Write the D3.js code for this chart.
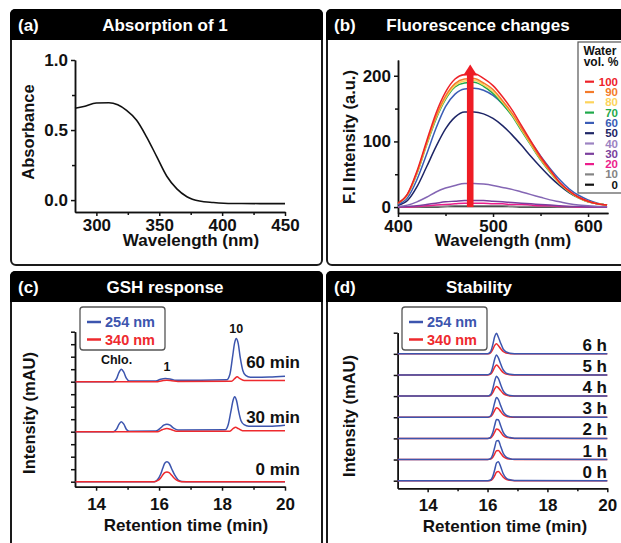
<!DOCTYPE html>
<html><head><meta charset="utf-8">
<script src="https://d3js.org/d3.v7.min.js"></script>
<style>
body{margin:0;background:#fff;}
svg text{font-family:"Liberation Sans",Arial,sans-serif;font-weight:bold;}
</style></head><body>
<svg id="fig" width="621" height="543"></svg>
<script>
// (a) absorption
const absWl  = [283,290,300,310,317,324,332,340,348,356,364,372,382,393,408,430,450];
const absVal = [0.655,0.668,0.693,0.695,0.68,0.64,0.57,0.45,0.31,0.17,0.08,0.024,-0.007,-0.017,-0.024,-0.025,-0.025];

// (b) fluorescence, water vol. %
const flWl = [400,410,420,430,440,450,460,470,480,490,500,510,520,530,540,550,560,570,580,590,600,610,620];
const water = ["100","90","80","70","60","50","40","30","20","10","0"];
const waterColors = ["#ee2229","#f47b2a","#fdd45c","#1fa94b","#3a5cb6","#1d2566","#9c83c2","#7b3f9d","#ec1d8c","#848484","#111111"];
const fl100 = [6,20,55,100,143,175,195,202,203,196,185,168,148,124,100,77,57,38,25,15,9,5,3];
const fl90  = [6,19,53,97,138,169,188,195,196,189,179,162,143,120,97,74,55,37,24,15,9,5,3];
const fl80  = [6,19,52,95,136,166,185,192,193,186,176,160,141,118,95,73,54,36,24,14,8,5,3];
const fl70  = [6,19,51,94,134,164,183,189,190,184,173,157,139,116,94,72,53,36,23,14,8,5,3];
const fl60  = [4,14,42,80,120,153,172,180,181,178,170,157,140,120,99,78,59,42,28,18,11,6,3];
const fl50  = [3,10,31,61,92,119,137,145,145,142,135,124,110,94,77,61,46,33,22,14,8,5,3];
const fl40  = [1,3,8,15,23,29,33,36,36,35,33,30,27,23,19,15,11,8,5,3,2,1,1];
const fl30  = [0,1,2,4,6,8,9,10,10,10,9,8,7,6,5,4,3,2,1,1,0,0,0];
const fl20  = [0,0,1,2,3,4,5,6,6,6,5,5,4,4,3,2,2,1,1,0,0,0,0];
const fl10  = [0,0,0,1,1,1,2,2,2,2,2,2,1,1,1,1,1,0,0,0,0,0,0];
const fl0   = [0,0,0,0,0,1,1,1,1,1,1,1,1,0,0,0,0,0,0,0,0,0,0];
const flSeries = [fl100,fl90,fl80,fl70,fl60,fl50,fl40,fl30,fl20,fl10,fl0];
const arrowWl = 476, arrowTop = 217;

// (c) GSH response: [time, intensity above baseline]
const gshLabels = ["0 min","30 min","60 min"];
const gshLabelLift = [0.25, 0.35, 0.55];
const gsh254 = [
  [[13.35,0],[15.85,0],[15.95,0.08],[16.05,0.3],[16.12,0.55],[16.18,0.74],[16.25,0.8],[16.32,0.74],[16.4,0.52],[16.5,0.26],[16.6,0.08],[16.72,0.01],[17,0],[20,0]],
  [[13.35,0],[14.55,0],[14.65,0.1],[14.72,0.28],[14.8,0.4],[14.88,0.3],[14.96,0.1],[15.05,0.02],[15.9,0.03],[16.05,0.15],[16.15,0.26],[16.25,0.3],[16.35,0.26],[16.45,0.15],[16.6,0.07],[18.1,0.08],[18.2,0.3],[18.28,0.8],[18.35,1.25],[18.4,1.4],[18.46,1.25],[18.53,0.8],[18.6,0.45],[18.7,0.28],[18.85,0.22],[19.5,0.22],[20,0.26]],
  [[13.35,0],[14.55,0],[14.65,0.12],[14.72,0.35],[14.8,0.5],[14.88,0.38],[14.96,0.14],[15.05,0.03],[15.9,0.03],[16.05,0.1],[16.2,0.13],[16.35,0.11],[16.5,0.06],[18.15,0.08],[18.25,0.3],[18.33,0.95],[18.4,1.55],[18.45,1.73],[18.51,1.55],[18.58,0.95],[18.66,0.45],[18.75,0.25],[18.9,0.18],[19.5,0.19],[20,0.22]]
];
const gsh340 = [
  [[13.35,0],[15.85,0],[15.95,0.04],[16.05,0.15],[16.12,0.28],[16.18,0.36],[16.25,0.39],[16.32,0.36],[16.4,0.26],[16.5,0.12],[16.6,0.04],[16.72,0],[20,0]],
  [[13.35,0],[15.95,0],[16.1,0.08],[16.25,0.13],[16.4,0.08],[16.55,0.02],[18.25,0.02],[18.35,0.12],[18.43,0.18],[18.52,0.12],[18.65,0.04],[20,0.04]],
  [[13.35,0],[15.9,0],[16.1,0.04],[16.25,0.06],[16.4,0.04],[16.6,0.01],[18.3,0.02],[18.4,0.12],[18.48,0.2],[18.56,0.13],[18.7,0.05],[20,0.05]]
];

// (d) stability
const stabLabels = ["0 h","1 h","2 h","3 h","4 h","5 h","6 h"];
const stabTime = [13,16.0,16.1,16.17,16.24,16.3,16.36,16.44,16.52,16.62,16.75,16.9,20];
const stab254 = [
  [0,0,0.03,0.18,0.52,0.84,0.9,0.66,0.34,0.13,0.04,0.01,0],
  [0,0,0.04,0.22,0.58,0.88,0.9,0.62,0.31,0.12,0.04,0.01,0],
  [0,0,0.05,0.25,0.62,0.9,0.88,0.6,0.3,0.11,0.04,0.01,0],
  [0,0,0.06,0.3,0.7,0.93,0.85,0.55,0.27,0.1,0.03,0.01,0],
  [0,0,0.07,0.32,0.72,0.94,0.84,0.54,0.26,0.1,0.03,0.01,0],
  [0,0.01,0.08,0.35,0.76,0.95,0.82,0.52,0.25,0.09,0.03,0.01,0],
  [0,0.01,0.1,0.4,0.82,0.97,0.8,0.5,0.24,0.09,0.03,0.01,0]
];
const stab340 = [
  [0,0,0.01,0.08,0.24,0.4,0.43,0.32,0.17,0.06,0.02,0,0],
  [0,0,0.02,0.1,0.27,0.42,0.43,0.3,0.15,0.06,0.02,0,0],
  [0,0,0.02,0.12,0.3,0.44,0.42,0.29,0.14,0.05,0.02,0,0],
  [0,0,0.03,0.14,0.33,0.45,0.41,0.27,0.13,0.05,0.01,0,0],
  [0,0,0.03,0.15,0.35,0.46,0.4,0.26,0.13,0.05,0.01,0,0],
  [0,0,0.04,0.17,0.37,0.47,0.4,0.25,0.12,0.04,0.01,0,0],
  [0,0,0.05,0.2,0.4,0.48,0.39,0.24,0.11,0.04,0.01,0,0]
];

const blue = "#3c55ae", red = "#ee2a2e";
const svg = d3.select("#fig");

function panel(x, y, w, h, tag, title, titleX) {
  svg.append("rect").attr("x", x).attr("y", y).attr("width", w).attr("height", h)
    .attr("rx", 5).attr("fill", "#fff").attr("stroke", "#1a1a1a").attr("stroke-width", 2);
  svg.append("rect").attr("x", x - 1).attr("y", y - 1).attr("width", w + 2).attr("height", 31)
    .attr("rx", 5).attr("fill", "#000");
  svg.append("rect").attr("x", x - 1).attr("y", y + 15).attr("width", w + 2).attr("height", 15).attr("fill", "#000");
  svg.append("text").attr("x", x + 7).attr("y", y + 21).attr("fill", "#fff").attr("font-size", 17).text(tag);
  svg.append("text").attr("x", titleX).attr("y", y + 21).attr("fill", "#fff").attr("font-size", 17)
    .attr("text-anchor", "middle").text(title);
}

function axes(x, y, o) {
  const xy = y.range()[0], xx = x.range()[0];
  const pad = o.xPad || 3;
  const gx = svg.append("g").attr("transform", `translate(0,${xy})`)
    .call(d3.axisBottom(x).tickValues(o.xMinor).tickSize(3).tickSizeOuter(0).tickFormat(""));
  const gx2 = svg.append("g").attr("transform", `translate(0,${xy})`)
    .call(d3.axisBottom(x).tickValues(o.xMajor).tickSize(4).tickPadding(pad).tickSizeOuter(0).tickFormat(o.xFmt || d3.format("d")));
  const gy = svg.append("g").attr("transform", `translate(${xx},0)`)
    .call(d3.axisLeft(y).tickValues(o.yMinor || []).tickSize(3).tickSizeOuter(0).tickFormat(""));
  const gy2 = svg.append("g").attr("transform", `translate(${xx},0)`)
    .call(d3.axisLeft(y).tickValues(o.yMajor).tickSize(4).tickPadding(3).tickSizeOuter(0).tickFormat(o.yFmt || ""));
  [gx, gx2, gy, gy2].forEach(g => {
    g.selectAll("path,line").attr("stroke", "#111").attr("stroke-width", 1.5);
    g.selectAll("text").attr("fill", "#111").attr("font-size", 17)
      .style("font-family", '"Liberation Sans",Arial,sans-serif').style("font-weight", "bold");
  });
  svg.append("text").attr("x", o.xTitle[0]).attr("y", o.xTitle[1]).attr("text-anchor", "middle")
    .attr("font-size", 17).attr("fill", "#111").text(o.xTitle[2]);
  svg.append("text").attr("transform", `translate(${o.yTitle[0]},${o.yTitle[1]}) rotate(-90)`)
    .attr("text-anchor", "middle").attr("font-size", 16.5).attr("fill", "#111").text(o.yTitle[2]);
}

function hplcLegend(x0, y0) {
  svg.append("rect").attr("x", x0).attr("y", y0).attr("width", 85).attr("height", 43).attr("rx", 3)
    .attr("fill", "#fff").attr("stroke", "#555").attr("stroke-width", 1.3);
  [["254 nm", blue], ["340 nm", red]].forEach((d, i) => {
    const yy = y0 + 15 + i * 17.5;
    svg.append("line").attr("x1", x0 + 7).attr("x2", x0 + 21).attr("y1", yy).attr("y2", yy)
      .attr("stroke", d[1]).attr("stroke-width", 2.5);
    svg.append("text").attr("x", x0 + 25).attr("y", yy + 5).attr("fill", d[1]).attr("font-size", 14.5).text(d[0]);
  });
}

// ---------- panels ----------
panel(11, 10, 311, 255, "(a)", "Absorption of 1", 165);
panel(327, 10, 330, 255, "(b)", "Fluorescence changes", 478);
panel(11, 272, 311, 300, "(c)", "GSH response", 165);
panel(327, 272, 330, 300, "(d)", "Stability", 479);

// (a)
const xa = d3.scaleLinear().domain([283, 450]).range([75, 285]);
const ya = d3.scaleLinear().domain([-0.085, 1.0]).range([212, 60]);
axes(xa, ya, {xMajor: [300,350,400,450], xMinor: [325,375,425], yMajor: [0,0.5,1.0], yMinor: [0.25,0.75],
  yFmt: d3.format(".1f"), xTitle: [191, 246, "Wavelength (nm)"], yTitle: [34, 132, "Absorbance"]});
svg.append("path").datum(absWl.map((w, i) => [w, absVal[i]]))
  .attr("fill", "none").attr("stroke", "#111").attr("stroke-width", 1.6)
  .attr("d", d3.line().x(d => xa(d[0])).y(d => ya(d[1])).curve(d3.curveMonotoneX));

// (b)
const xb = d3.scaleLinear().domain([400, 621]).range([398, 608]);
const yb = d3.scaleLinear().domain([-9, 224]).range([213, 60]);
axes(xb, yb, {xMajor: [400,500,600], xMinor: [450,550], yMajor: [0,100,200], yMinor: [50,150],
  yFmt: d3.format("d"), xTitle: [503, 246, "Wavelength (nm)"], yTitle: [355, 137, "F.I Intensity (a.u.)"]});
const lineB = d3.line().x(d => xb(d[0])).y(d => yb(d[1])).curve(d3.curveMonotoneX);
const curveColors = waterColors.slice();
curveColors[6] = "#8466b4";
flSeries.slice().reverse().forEach((s, i) => {
  const k = flSeries.length - 1 - i;
  svg.append("path").datum(flWl.map((w, j) => [w, s[j]]))
    .attr("fill", "none").attr("stroke", curveColors[k]).attr("stroke-width", 1.5).attr("d", lineB);
});
// arrow
const ax = xb(arrowWl), ab = yb(0), at = yb(arrowTop);
svg.append("rect").attr("x", ax - 3.3).attr("y", at + 9).attr("width", 6.6).attr("height", ab - at - 9).attr("fill", "#ee1c25");
svg.append("path").attr("d", `M${ax},${at} L${ax + 7},${at + 11} L${ax - 7},${at + 11} Z`).attr("fill", "#ee1c25");
// legend (b)
svg.append("rect").attr("x", 578).attr("y", 42).attr("width", 60).attr("height", 151)
  .attr("fill", "#fff").attr("stroke", "#555").attr("stroke-width", 1.2);
svg.append("text").attr("x", 600).attr("y", 55).attr("text-anchor", "middle").attr("font-size", 12).attr("fill", "#111").text("Water");
svg.append("text").attr("x", 601).attr("y", 66).attr("text-anchor", "middle").attr("font-size", 12).attr("fill", "#111").text("vol. %");
water.forEach((w, i) => {
  const yy = 81.7 + i * 10.3;
  svg.append("line").attr("x1", 585).attr("x2", 594).attr("y1", yy).attr("y2", yy)
    .attr("stroke", waterColors[i]).attr("stroke-width", 2.2);
  svg.append("text").attr("x", 618).attr("y", yy + 4).attr("text-anchor", "end").attr("font-size", 11.5)
    .attr("fill", waterColors[i]).text(w);
});

// (c)
const xc = d3.scaleLinear().domain([13.33, 20]).range([75, 285]);
const yc = d3.scaleLinear().domain([-0.2, 6]).range([486.7, 331.7]);
axes(xc, yc, {xMajor: [14,16,18,20], xMinor: [15,17,19], yMajor: d3.range(0, 6.01, 0.5), xPad: 7,
  xTitle: [186, 531, "Retention time (min)"], yTitle: [35, 413, "Intensity (mAU)"]});
gsh254.forEach((tr, i) => {
  const off = i * 2;
  const ln = d3.line().x(d => xc(d[0])).y(d => yc(d[1] + off)).curve(d3.curveMonotoneX);
  svg.append("path").datum(tr).attr("fill", "none").attr("stroke", blue).attr("stroke-width", 1.5).attr("d", ln);
  svg.append("path").datum(gsh340[i]).attr("fill", "none").attr("stroke", red).attr("stroke-width", 1.5).attr("d", ln);
  svg.append("text").attr("x", 300).attr("y", yc(off + gshLabelLift[i])).attr("text-anchor", "end").attr("font-size", 17)
    .attr("fill", "#111").text(gshLabels[i]);
});
svg.append("text").attr("x", xc(14.65)).attr("y", 364).attr("text-anchor", "middle").attr("font-size", 12.5).attr("fill", "#111").text("Chlo.");
svg.append("text").attr("x", xc(16.25)).attr("y", 371).attr("text-anchor", "middle").attr("font-size", 12.5).attr("fill", "#111").text("1");
svg.append("text").attr("x", xc(18.45)).attr("y", 333).attr("text-anchor", "middle").attr("font-size", 12.5).attr("fill", "#111").text("10");
hplcLegend(80, 307);

// (d)
const xd = d3.scaleLinear().domain([13, 20]).range([397.7, 607.3]);
const yd = d3.scaleLinear().domain([-0.36, 7]).range([488.3, 332.7]);
axes(xd, yd, {xMajor: [14,16,18,20], xMinor: [15,17,19], yMajor: d3.range(0, 7.01, 1), xPad: 7,
  xTitle: [505, 532, "Retention time (min)"], yTitle: [355, 416, "Intensity (mAU)"]});
stab254.forEach((s, i) => {
  const ln = d3.line().x(d => xd(d[0])).y(d => yd(d[1] + i)).curve(d3.curveMonotoneX);
  svg.append("path").datum(stabTime.map((t, j) => [t, stab340[i][j]])).attr("fill", "none").attr("stroke", red).attr("stroke-width", 1.5).attr("d", ln);
  svg.append("path").datum(stabTime.map((t, j) => [t, s[j]])).attr("fill", "none").attr("stroke", blue).attr("stroke-width", 1.5).attr("d", ln);
  svg.append("text").attr("x", 607).attr("y", yd(i) - 3).attr("text-anchor", "end").attr("font-size", 17)
    .attr("fill", "#111").text(stabLabels[i]);
});
hplcLegend(402, 307);
</script></body></html>
